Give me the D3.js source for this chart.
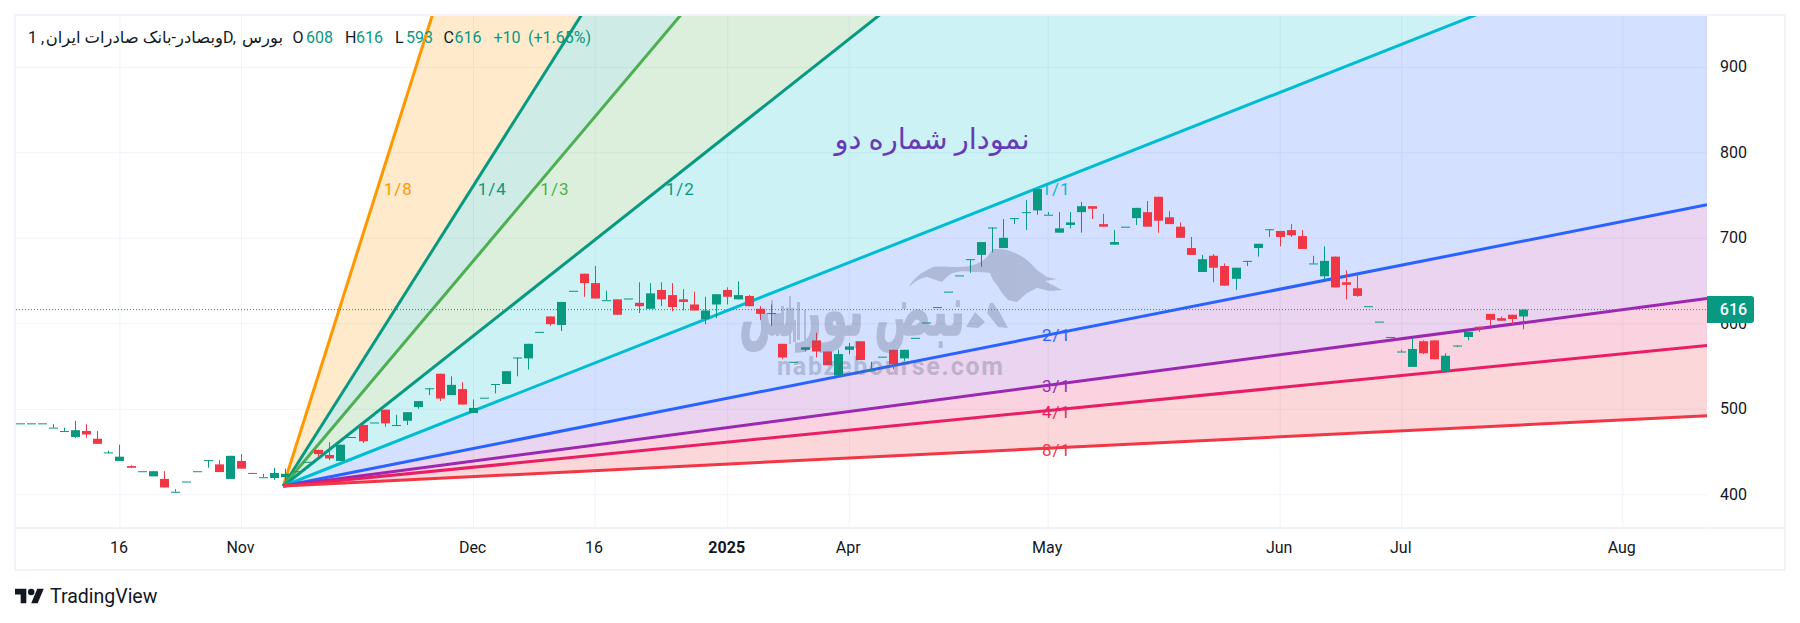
<!DOCTYPE html>
<html><head><meta charset="utf-8">
<script src="https://cdn.jsdelivr.net/npm/d3@7"></script>
<style>
html,body{margin:0;padding:0;background:#fff}
svg{display:block}
text{font-family:Roboto,"DejaVu Sans",sans-serif}
</style></head><body>
<div id="chart"></div>
<script>
const opens=[483,483,483,478,474,467,474,465,449,439,433,427,421,418,403,415,427,440,435,418,439,425,420,419,420,
427,438,452,446,439,467,481,484,499,481,486,502,524,541,516,523,495,513,529,529,560,559,590,608,598,
638,658,647,627,628,629,624,617,639,633,628,622,605,622,639,628,632,617,612,
576,555,569,580,567,539,569,579,545,561,569,559,583,601,619,637,656,675,680,712,688,723,730,732,
727,706,715,730,737,716,692,713,723,730,748,724,713,688,660,679,667,652,673,688,
710,708,709,702,670,655,678,648,641,620,602,584,567,549,579,580,544,574,584,596,611,606,610,608];
const highs=[483,483,483,482,478,486,482,474,451,458,434,427,427,427,406,415,427,440,440,445,447,425,424,431,430,
427,438,452,461,458,467,481,484,499,493,496,509,524,541,538,531,511,513,529,544,560,576,590,608,625,
638,658,667,638,628,629,648,647,648,647,640,637,631,634,642,649,633,620,622,
576,555,572,589,567,569,577,579,555,561,569,569,583,601,619,637,656,675,695,712,722,723,744,757,
730,730,730,742,737,728,709,713,735,743,748,731,718,701,680,681,670,665,673,693,
710,708,716,709,679,690,678,662,658,620,602,584,569,583,580,580,565,574,590,596,611,608,610,616];
const lows=[483,483,483,478,474,466,466,459,448,439,431,427,421,408,403,415,427,431,426,418,430,424,420,417,416,
427,438,444,440,439,467,460,484,479,481,481,500,516,509,516,505,495,513,518,529,538,546,590,597,591,
638,631,629,627,610,629,612,617,620,614,615,615,599,606,622,628,620,604,597,
558,555,567,560,551,539,564,557,544,561,546,556,583,601,619,637,656,659,666,683,688,716,709,727,
727,706,711,706,722,713,692,713,715,713,706,716,700,680,660,648,644,639,667,678,
701,690,701,687,670,651,642,628,631,620,602,584,567,549,564,558,544,572,580,590,597,603,599,593];
const closes=[483,483,483,478,474,475,470,459,449,444,431,427,427,408,403,415,427,440,426,445,430,424,420,425,424,
427,438,447,442,458,467,462,484,483,481,496,509,524,512,528,505,501,513,529,544,560,576,590,599,625,
638,647,629,627,610,629,620,635,628,619,625,615,615,634,631,633,620,611,612,
560,555,572,567,551,564,573,557,545,561,552,569,583,601,619,637,656,675,695,712,700,723,730,757,
727,711,718,737,734,713,695,713,735,713,720,716,700,680,675,665,644,665,673,693,
710,701,703,687,670,673,642,645,632,620,602,584,567,570,565,558,562,574,590,594,604,603,605,616];
const timeTickIndex=[9,20,41,52,64,75,93,114,125,145];
const timeTickLabels=["16","Nov","Dec","16","2025","Apr","May","Jun","Jul","Aug"];
const priceTicks=[400,500,600,700,800,900];
const fanLabels=["1/8","1/4","1/3","1/2","1/1","2/1","3/1","4/1","8/1"];
const fanMultipliers=[8,4,3,2,1,1/2,1/3,1/4,1/8];
const fanColors=["#ff9800","#089981","#4caf50","#089981","#00bcd4","#2962ff","#9c27b0","#e91e63","#f23645"];
const bandFillColors=["#ff9800","#089981","#4caf50","#00bcd4","#2962ff","#9c27b0","#e91e63","#f23645"];
const fanOriginIndex=23.83, fanOriginPrice=409.7, fanUnitPerBar=5.105, fanLabelPrice=757;
const lastPrice=616;
const up="#089981", down="#f23645", ink="#131722";

const W=1800,H=623;
const plot={l:16,t:16,r:1707,b:528};
const svg=d3.select("#chart").append("svg").attr("width",W).attr("height",H).attr("viewBox",`0 0 ${W} ${H}`);
const x=d3.scaleLinear().domain([0,136]).range([20,1522.8]);
const y=d3.scaleLinear().domain([400,900]).range([494.3,66.8]);

svg.append("defs").append("clipPath").attr("id","plotClip").append("rect")
 .attr("x",plot.l).attr("y",plot.t).attr("width",plot.r-plot.l).attr("height",plot.b-plot.t);

// frame
svg.append("rect").attr("x",15).attr("y",15).attr("width",1770).attr("height",555)
 .attr("fill","#fff").attr("stroke","#f0f3fa").attr("stroke-width",2);

// axes & grid
const xAxis=d3.axisBottom(x).tickValues(timeTickIndex).tickFormat((d,i)=>timeTickLabels[i])
 .tickSize(-(plot.b-plot.t)).tickPadding(14);
const gx=svg.append("g").attr("transform",`translate(0,${plot.b})`).call(xAxis);
gx.select(".domain").attr("stroke","#e0e3eb").attr("d",`M${plot.l},0H${plot.r}M${plot.r+1},0H1784`);
gx.selectAll("line").attr("stroke","#f0f3fa");
gx.selectAll("text").attr("fill",ink).attr("font-size",16).attr("font-family","Roboto")
 .attr("font-weight",(d,i)=>timeTickLabels[i]==="2025"?700:400).attr("dx",-1);

const yAxis=d3.axisRight(y).tickValues(priceTicks).tickFormat(d3.format("d"))
 .tickSize(-(plot.r-plot.l)).tickPadding(12);
const gy=svg.append("g").attr("transform",`translate(${plot.r},0)`).call(yAxis);
gy.select(".domain").remove();
gy.selectAll("line").attr("stroke","#f0f3fa");
gy.selectAll("text").attr("fill",ink).attr("font-size",16).attr("font-family","Roboto")
 .attr("text-anchor","middle").attr("x",26.5);

// gann fan
const fan=svg.append("g").attr("clip-path","url(#plotClip)");
const endIndex=x.invert(plot.r);
const rayPoint=(m,idx)=>[x(idx),y(fanOriginPrice+fanUnitPerBar*m*(idx-fanOriginIndex))];
const origin=[x(fanOriginIndex),y(fanOriginPrice)];
bandFillColors.forEach((c,i)=>{
  fan.append("path").attr("d",d3.line()([origin,rayPoint(fanMultipliers[i],endIndex),rayPoint(fanMultipliers[i+1],endIndex)])+"Z")
   .attr("fill",c).attr("fill-opacity",0.2);
});
fanMultipliers.forEach((m,i)=>{
  fan.append("path").attr("d",d3.line()([origin,rayPoint(m,endIndex)]))
   .attr("stroke",fanColors[i]).attr("stroke-width",3).attr("fill","none");
});

// candles
const idx=d3.range(opens.length);
const cg=svg.append("g").attr("clip-path","url(#plotClip)");
const col=i=>closes[i]>=opens[i]?up:down;
cg.selectAll("line.w").data(idx).join("line").attr("class","w")
 .attr("x1",i=>Math.round(x(i))+.5).attr("x2",i=>Math.round(x(i))+.5)
 .attr("y1",i=>y(highs[i])).attr("y2",i=>y(lows[i])).attr("stroke",col).attr("stroke-width",1);
cg.selectAll("rect.b").data(idx).join("rect").attr("class","b")
 .attr("x",i=>Math.round(x(i))-4).attr("width",9)
 .attr("y",i=>y(Math.max(opens[i],closes[i])))
 .attr("height",i=>Math.max(1,Math.abs(y(opens[i])-y(closes[i])))).attr("fill",col);

// watermark
const wm=svg.append("g").attr("fill","#5d6480").attr("stroke","#5d6480").attr("opacity",0.3).attr("clip-path","url(#plotClip)");
wm.append("path").attr("stroke","none").attr("d",
 "M909,287C913,279 920,273 933,267C940,266 947,267 953,267C960,267 967,267 973,265C980,263 985,259 987,257L993,249C998,249 1002,249 1007,250C1013,252 1018,254 1023,257C1029,261 1033,266 1037,270L1047,277L1057,279L1045,281L1062,290L1050,291L1037,288L1027,293L1017,302L1008,300L1002,293L997,285L993,280L990,273C984,272 979,272 973,272C966,271 958,271 953,273C948,275 945,279 942,282L927,277C920,278 914,282 909,287Z"
 +"M990,303L993,303L1000,313L1008,328L998,327L987,313Z"
 +"M966,327L975,312L985,322L978,328Z");
wm.append("path").attr("stroke","none").attr("d",
 "M771,300h2v35h-2zM781,306h3v28h-3zM789,296h2v48h-2zM797,302h3v38h-3zM804,310h2v30h-2zM776,318h3v18h-3zM793,320h3v22h-3z");
wm.append("text").text("نبض بورس").attr("x",852).attr("y",335).attr("text-anchor","middle").attr("stroke-width",1.5)
 .attr("font-size",70).attr("font-weight",700).attr("font-family","DejaVu Sans").attr("textLength",226).attr("lengthAdjust","spacingAndGlyphs");
wm.append("text").text("nabzebourse.com").attr("x",777).attr("y",375).attr("font-size",25).attr("stroke","none")
 .attr("font-weight",700).attr("font-family","DejaVu Sans").attr("textLength",226).attr("lengthAdjust","spacing");

// fan labels
const lbl=svg.append("g").attr("font-size",17).attr("letter-spacing",1).attr("text-anchor","middle").attr("font-family","Roboto");
fanMultipliers.forEach((m,i)=>{
  let cx,cy;
  if(m>=1){
    const ix=fanOriginIndex+(fanLabelPrice-fanOriginPrice)/(fanUnitPerBar*m);
    cx=x(ix)+21; cy=y(fanLabelPrice);
  }else{
    cx=x(93.8); cy=rayPoint(m,93.8)[1]+2;
  }
  lbl.append("text").text(fanLabels[i]).attr("x",cx).attr("y",cy).attr("dy","0.35em").attr("fill",fanColors[i]);
});

// title
svg.append("text").text("نمودار شماره دو").attr("x",932).attr("y",149).attr("text-anchor","middle")
 .attr("font-size",29).attr("fill","#673ab7").attr("font-family","DejaVu Sans");

// price line & label
svg.append("line").attr("x1",plot.l).attr("x2",plot.r).attr("y1",y(lastPrice)).attr("y2",y(lastPrice))
 .attr("stroke",up).attr("stroke-width",1).attr("stroke-dasharray","1 2");
svg.append("path").attr("fill",up).attr("d",(()=>{const t=y(lastPrice)-13.5,b=y(lastPrice)+13.5,l=plot.r,r=1754,q=3;
 return `M${l},${t}H${r-q}Q${r},${t} ${r},${t+q}V${b-q}Q${r},${b} ${r-q},${b}H${l}Z`;})());
svg.append("text").text(lastPrice).attr("x",1733.5).attr("y",y(lastPrice)).attr("dy","0.35em").attr("text-anchor","middle")
 .attr("fill","#fff").attr("font-size",16).attr("font-weight",500);

// header
const hdr=svg.append("g").attr("font-size",16);
const put=(t,px,c,anchor)=>hdr.append("text").text(t).attr("x",px).attr("y",43).attr("fill",c).attr("text-anchor",anchor||"start");
put("1 ,",28,ink);
hdr.append("text").text("وبصادر-بانک صادرات ایران").attr("x",223).attr("y",43).attr("fill",ink).attr("text-anchor","end").attr("font-family","DejaVu Sans").attr("font-size",16.4);
put("D,",223,ink);
hdr.append("text").text("بورس").attr("x",283).attr("y",43).attr("fill",ink).attr("text-anchor","end").attr("font-family","DejaVu Sans").attr("font-size",16.4);
const ohlc=[["O","608",292.5,306],["H","616",345,356],["L","593",395,406],["C","616",443.5,454.5]];
ohlc.forEach(o=>{put(o[0],o[2],ink);put(o[1],o[3],up);});
put("+10",493.5,up);put("(+1.65%)",528,up);

// logo
const logo=svg.append("g").attr("transform","translate(15,585.5) scale(0.81)").attr("fill",ink);
logo.append("path").attr("d","M14 22H7V11H0V4h14v18zM28 22h-8l7.5-18h8L28 22z");
logo.append("circle").attr("cx",20).attr("cy",8).attr("r",4);
svg.append("text").text("TradingView").attr("x",50).attr("y",603).attr("font-size",19.5).attr("font-family","Inter").attr("fill",ink);
</script>
</body></html>
